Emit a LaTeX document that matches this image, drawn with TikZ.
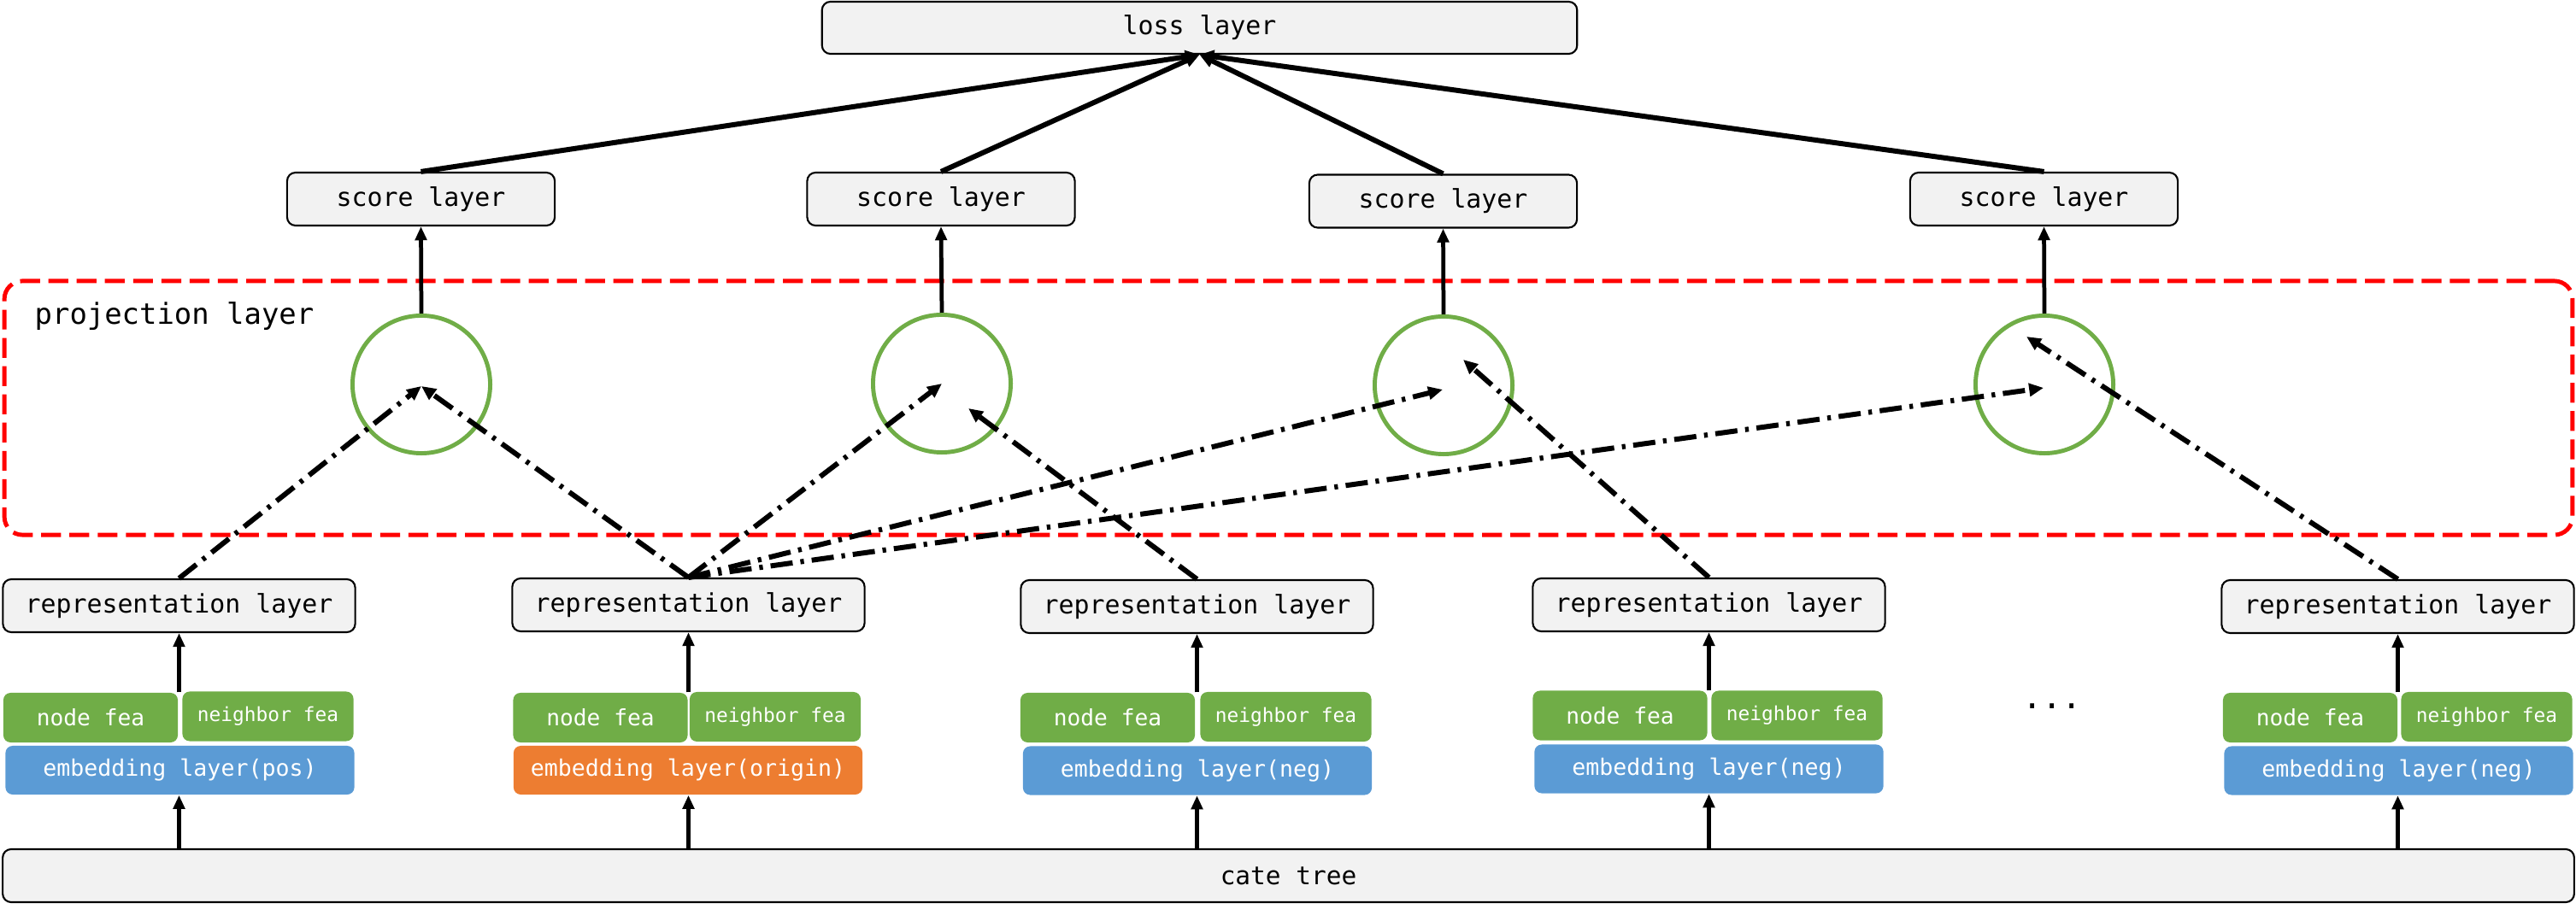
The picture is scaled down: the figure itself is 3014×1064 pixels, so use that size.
\documentclass[tikz,border=0pt]{standalone}
\usepackage{fontspec}
\newfontfamily\dmono{DejaVu Sans Mono}
\usetikzlibrary{arrows.meta}
\definecolor{boxgray}{HTML}{F2F2F2}
\definecolor{cgreen}{HTML}{70AD47}
\definecolor{cblue}{HTML}{5B9BD5}
\definecolor{corange}{HTML}{ED7D31}
\begin{document}
\begin{tikzpicture}[x=0.01cm,y=-0.01cm,
  graybox/.style={draw=black, line width=0.6pt, fill=boxgray, rounded corners=2.8pt, inner sep=0pt, font=\dmono\fontsize{8.5pt}{10pt}\selectfont},
  feabox/.style={fill=cgreen, rounded corners=2.4pt, inner sep=0pt, text=white, minimum height=0.58cm},
  nodefea/.style={feabox, minimum width=2.04cm, font=\dmono\fontsize{7.46pt}{9pt}\selectfont},
  nbfea/.style={feabox, minimum width=2.0cm, font=\dmono\fontsize{6.5pt}{8pt}\selectfont},
  embbox/.style={fill=#1, rounded corners=2.4pt, inner sep=0pt, text=white, minimum width=4.08cm, minimum height=0.57cm, font=\dmono\fontsize{7.56pt}{9pt}\selectfont},
  scorebox/.style={graybox, minimum width=3.13cm, minimum height=0.62cm},
  repbox/.style={graybox, minimum width=4.12cm, minimum height=0.62cm},
  projcircle/.style={circle, draw=cgreen, line width=1.4pt, minimum size=1.61cm, inner sep=0pt},
  uparrow/.style={line width=1.35pt, -{Triangle[length=4.6pt,width=3.8pt]}},
  lossarrow/.style={line width=1.7pt, -{Triangle[length=4.8pt,width=4.2pt]}},
  projarrow/.style={line width=1.7pt, dash pattern=on 7.4pt off 2.6pt on 1.2pt off 2.6pt, -{Triangle[length=4.8pt,width=4.2pt]}},
  redbox/.style={draw=red, line width=1.4pt, dash pattern=on 6.6pt off 2.8pt, rounded corners=6pt, inner sep=0pt}
]
\useasboundingbox (0,0) rectangle (3014,1064);

% projection region
\node[redbox, minimum width=30.03cm, minimum height=2.97cm] (proj) at (1507.5,477.5) {};
\node[anchor=base west, inner sep=0pt, font=\dmono\fontsize{9.64pt}{11pt}\selectfont] (projlabel) at (40,380) {projection layer};

% loss
\node[graybox, minimum width=8.83cm, minimum height=0.61cm] (loss) at (1403.5,32.5) {loss layer};

% score layers
\node[scorebox] (s1) at (492.5,233) {score layer};
\node[scorebox] (s2) at (1101,233) {score layer};
\node[scorebox] (s3) at (1688.5,235.5) {score layer};
\node[scorebox] (s4) at (2391.5,233) {score layer};

% circles
\node[projcircle] (c1) at (493,450) {};
\node[projcircle] (c2) at (1102,449) {};
\node[projcircle] (c3) at (1689,451) {};
\node[projcircle] (c4) at (2392,450) {};

% representation layers
\node[repbox] (r1) at (209.5,709) {representation layer};
\node[repbox] (r2) at (805.5,708) {representation layer};
\node[repbox] (r3) at (1400.5,710) {representation layer};
\node[repbox] (r4) at (1999.5,708) {representation layer};
\node[repbox] (r5) at (2805.5,710) {representation layer};

% features
\node[nodefea] (n1) at (106,840) {node fea};
\node[nbfea] (b1) at (313.5,838.5) {neighbor fea};
\node[embbox=cblue] (e1) at (210.5,901.5) {embedding layer(pos)};

\node[nodefea] (n2) at (702.5,840) {node fea};
\node[nbfea] (b2) at (907,839) {neighbor fea};
\node[embbox=corange] (e2) at (805,901.5) {embedding layer(origin)};

\node[nodefea] (n3) at (1296,840) {node fea};
\node[nbfea] (b3) at (1504.5,839) {neighbor fea};
\node[embbox=cblue] (e3) at (1401,902) {embedding layer(neg)};

\node[nodefea] (n4) at (1895.5,837.5) {node fea};
\node[nbfea] (b4) at (2102.5,837.5) {neighbor fea};
\node[embbox=cblue] (e4) at (1999.5,900) {embedding layer(neg)};

\node[nodefea] (n5) at (2703,840) {node fea};
\node[nbfea] (b5) at (2909.5,839) {neighbor fea};
\node[embbox=cblue] (e5) at (2806.5,902) {embedding layer(neg)};

\node[anchor=base, inner sep=0pt, font=\dmono\fontsize{11pt}{12pt}\selectfont] (dots) at (2401,830) {...};

% cate tree
\node[graybox, minimum width=30.07cm, minimum height=0.62cm, font=\dmono\fontsize{8.37pt}{10pt}\selectfont] (cate) at (1507.5,1025) {cate tree};

% arrows: cate tree -> embedding, features -> representation
\foreach \i in {1,...,5}{
  \draw[uparrow] (cate.north -| r\i.south) -- (r\i.south |- e\i.south);
  \draw[uparrow] (r\i.south |- n\i.north) -- (r\i.south);
}

% circle -> score, score -> loss
\foreach \i in {1,...,4}{
  \draw[uparrow] (c\i.north) -- (s\i.south);
  \draw[lossarrow] (s\i.north) -- (loss.south);
}

% projection arrows
\coordinate (t1) at (493,452);
\coordinate (t2) at (1133,478);
\coordinate (t3a) at (1688,456);
\coordinate (t3b) at (1712,421);
\coordinate (t4a) at (2391,454);
\coordinate (t4b) at (2371,394);

\draw[projarrow] (r1.north) -- (t1);
\draw[projarrow] (r2.north) -- (t1);
\draw[projarrow] (r2.north) -- (c2.center);
\draw[projarrow] (r3.north) -- (t2);
\draw[projarrow] (r2.north) -- (t3a);
\draw[projarrow] (r4.north) -- (t3b);
\draw[projarrow] (r2.north) -- (t4a);
\draw[projarrow] (r5.north) -- (t4b);
\end{tikzpicture}
\end{document}
